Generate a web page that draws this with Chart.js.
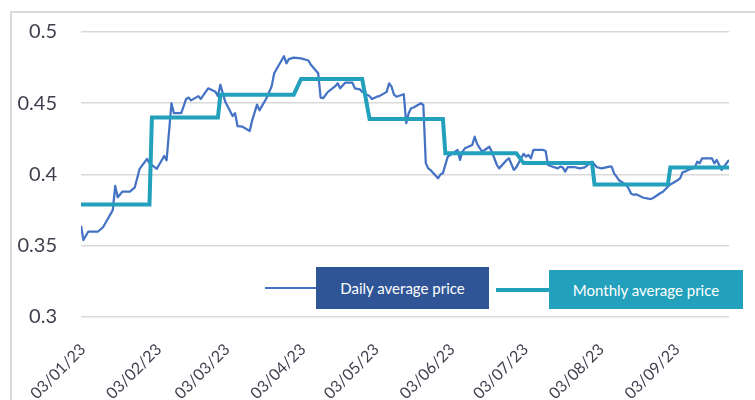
<!DOCTYPE html>
<html>
<head>
<meta charset="utf-8">
<script src="https://cdn.jsdelivr.net/npm/chart.js@4.4.0/dist/chart.umd.min.js"></script>
<style>
  html, body { margin: 0; padding: 0; background: #fff; }
  #wrap { position: relative; width: 755px; height: 400px; overflow: hidden; font-family: Lato, "Open Sans", sans-serif; }
  #frame { position: absolute; left: 10px; top: 11px; width: 800px; height: 450px; border-left: 2px solid #dadada; border-top: 2px solid #dadada; }
  #price-chart { position: absolute; left: 0; top: 0; }
  .leg { position: absolute; display: flex; align-items: center; }
  .leg .box { display: flex; align-items: center; justify-content: center; color: #fff; font-size: 15px; }
</style>
</head>
<body>
<div id="wrap">
  <div id="frame"></div>
  <canvas id="price-chart" width="755" height="400"></canvas>
  <div id="legend"></div>
</div>
<script>
const YEAR = 2023
const firstDate = '03/01'

// daily average price (trading days), dd/mm
const dailyDates = [
  '03/01','04/01','06/01','10/01','12/01','13/01','16/01','17/01','18/01','20/01',
  '23/01','25/01','27/01','30/01','31/01','03/02','06/02','07/02','09/02','10/02',
  '13/02','15/02','16/02','17/02','20/02','21/02','24/02','27/02','28/02','01/03',
  '03/03','06/03','07/03','08/03','10/03','13/03','14/03','16/03','17/03','20/03',
  '22/03','23/03','24/03','27/03','28/03','29/03','31/03','03/04','06/04','07/04',
  '10/04','11/04','12/04','14/04','17/04','18/04','19/04','21/04','24/04','25/04',
  '27/04','28/04','01/05','02/05','04/05','05/05','08/05','09/05','10/05','11/05',
  '12/05','15/05','16/05','17/05','18/05','19/05','22/05','23/05','24/05','25/05',
  '26/05','29/05','30/05','31/05','02/06','05/06','06/06','07/06','08/06','09/06',
  '12/06','13/06','14/06','16/06','19/06','20/06','22/06','23/06','26/06','27/06',
  '29/06','30/06','03/07','04/07','05/07','06/07','07/07','10/07','11/07','12/07',
  '13/07','14/07','17/07','18/07','19/07','20/07','21/07','24/07','26/07','28/07',
  '31/07','01/08','02/08','04/08','07/08','08/08','09/08','10/08','11/08','14/08',
  '15/08','16/08','17/08','18/08','21/08','23/08','24/08','25/08','28/08','29/08',
  '31/08','01/09','04/09','05/09','06/09','07/09','08/09','11/09','12/09','13/09',
  '14/09','15/09','18/09','19/09','20/09','22/09','25/09'
]
const dailyPrices = [
  0.364, 0.354, 0.360, 0.360, 0.363, 0.366, 0.375, 0.392, 0.384, 0.388,
  0.388, 0.391, 0.404, 0.411, 0.408, 0.404, 0.413, 0.410, 0.450, 0.443,
  0.443, 0.453, 0.454, 0.452, 0.455, 0.453, 0.4605, 0.458, 0.455, 0.463,
  0.451, 0.441, 0.443, 0.434, 0.4336, 0.4305, 0.438, 0.449, 0.445, 0.454,
  0.462, 0.471, 0.474, 0.483, 0.478, 0.481, 0.482, 0.4815, 0.480, 0.477,
  0.471, 0.454, 0.4535, 0.458, 0.462, 0.464, 0.4605, 0.4644, 0.4644, 0.4605,
  0.4598, 0.458, 0.455, 0.453, 0.4546, 0.455, 0.458, 0.464, 0.4616, 0.456,
  0.4546, 0.4563, 0.436, 0.443, 0.4465, 0.447, 0.450, 0.4488, 0.408, 0.4043,
  0.403, 0.3973, 0.400, 0.401, 0.4125, 0.416, 0.4172, 0.4102, 0.416, 0.4184,
  0.4207, 0.4265, 0.4214, 0.416, 0.4195, 0.416, 0.407, 0.4043, 0.410, 0.4114,
  0.4032, 0.405, 0.4145, 0.4125, 0.4137, 0.4114, 0.4172, 0.4172, 0.4172, 0.4165,
  0.4067, 0.406, 0.4043, 0.4055, 0.405, 0.402, 0.4051, 0.4051, 0.4043, 0.405,
  0.409, 0.407, 0.4051, 0.4043, 0.4055, 0.4055, 0.4008, 0.3985, 0.396, 0.3926,
  0.390, 0.3865, 0.3858, 0.3861, 0.3837, 0.383, 0.3828, 0.3835, 0.387, 0.3879,
  0.3914, 0.393, 0.396, 0.3973, 0.4015, 0.402, 0.403, 0.4048, 0.409, 0.4079,
  0.4114, 0.4114, 0.4114, 0.4079, 0.4102, 0.4032, 0.4102
]

// monthly average price, first and last trading day of each month
const monthStart = ['03/01','01/02','01/03','03/04','01/05','01/06','03/07','01/08','01/09']
const monthEnd   = ['31/01','28/02','31/03','28/04','31/05','30/06','31/07','31/08','25/09']
const monthlyPrices = [0.379, 0.440, 0.456, 0.467, 0.439, 0.415, 0.408, 0.393, 0.405]

const tickLabels = ['03/01/23','03/02/23','03/03/23','03/04/23','03/05/23','03/06/23','03/07/23','03/08/23','03/09/23']

const seriesNames = ['Daily average price', 'Monthly average price']


function dayOffset(ddmm) {
  const [d, m] = ddmm.split('/').map(Number)
  const t0 = Date.UTC(YEAR, Number(firstDate.split('/')[1]) - 1, Number(firstDate.split('/')[0]))
  return Math.round((Date.UTC(YEAR, m - 1, d) - t0) / 86400000)
}

const dailyPoints = dailyDates.map((d, i) => ({ x: dayOffset(d), y: dailyPrices[i] }))
const monthlyPoints = []
monthlyPrices.forEach((v, i) => {
  monthlyPoints.push({ x: dayOffset(monthStart[i]), y: v })
  monthlyPoints.push({ x: dayOffset(monthEnd[i]), y: v })
})
const tickOffsets = tickLabels.map(l => dayOffset(l.slice(0, 5)))

const chartConfig = {
  type: 'line',
  data: {
    datasets: [{
      label: seriesNames[0],
      data: dailyPoints,
      borderColor: '#4472C4',
      borderWidth: 2.25,
      borderJoinStyle: 'round',
      pointRadius: 0,
      tension: 0,
      order: 1
    }, {
      label: seriesNames[1],
      data: monthlyPoints,
      borderColor: '#22A0BC',
      borderWidth: 4,
      pointRadius: 0,
      tension: 0,
      order: 0
    }]
  },
  options: {
    responsive: false,
    animation: false,
    layout: { padding: { top: 32, right: 26, left: 0, bottom: 0 } },
    plugins: { legend: { display: false }, tooltip: { enabled: false } },
    scales: {
      x: {
        type: 'linear',
        min: 0,
        max: dayOffset(monthEnd[monthEnd.length - 1]),
        grid: { display: false, drawTicks: false },
        border: { display: false },
        afterBuildTicks: axis => { axis.ticks = tickOffsets.map(v => ({ value: v })) },
        afterFit: axis => { axis.height = 83 },
        ticks: {
          autoSkip: false,
          minRotation: 45,
          maxRotation: 45,
          padding: 23,
          labelOffset: 2,
          color: '#3f3f4f',
          font: { family: 'Lato', size: 16 },
          callback: (v, i) => tickLabels[i]
        }
      },
      y: {
        min: 0.3,
        max: 0.5,
        grid: { color: '#d9d9d9', lineWidth: 1.5, drawTicks: false },
        border: { display: false },
        afterFit: axis => {
          axis.width = 81
          axis.paddingTop = 0
          axis.paddingBottom = 0
        },
        ticks: {
          stepSize: 0.05,
          padding: 24,
          color: '#3f3f4f',
          font: { family: 'Lato', size: 20 },
          callback: v => String(parseFloat(v.toFixed(2)))
        }
      }
    }
  }
}

const legendLayout = [
  { left: 265, top: 267, sample: 51, thick: 2, boxW: 173, boxH: 42, bg: '#2F5597', color: '#4472C4' },
  { left: 496, top: 270, sample: 53, thick: 4, boxW: 194, boxH: 39, bg: '#22A0BC', color: '#22A0BC' }
]

function buildLegend(chart) {
  const el = document.getElementById('legend')
  chart.data.datasets.forEach((ds, i) => {
    const l = legendLayout[i]
    const item = document.createElement('div')
    item.className = 'leg'
    item.style.left = l.left + 'px'
    item.style.top = l.top + 'px'
    item.style.height = l.boxH + 'px'
    const sample = document.createElement('span')
    sample.style.width = l.sample + 'px'
    sample.style.height = l.thick + 'px'
    sample.style.background = l.color
    const box = document.createElement('span')
    box.className = 'box'
    box.style.width = l.boxW + 'px'
    box.style.height = l.boxH + 'px'
    box.style.background = l.bg
    box.textContent = ds.label
    item.appendChild(sample)
    item.appendChild(box)
    el.appendChild(item)
  })
}

const ctx = document.getElementById('price-chart').getContext('2d')
const priceChart = new Chart(ctx, chartConfig)
buildLegend(priceChart)
</script>
</body>
</html>
